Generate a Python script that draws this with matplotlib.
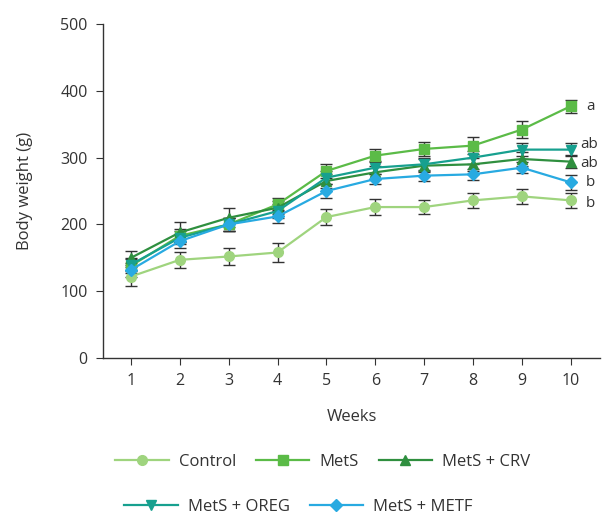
import matplotlib
matplotlib.use("Agg")
import matplotlib.pyplot as plt

plt.rcParams['font.family'] = ['Open Sans', 'DejaVu Sans']

# --- Data ---
weeks = [1, 2, 3, 4, 5, 6, 7, 8, 9, 10]
control = [122, 147, 152, 158, 211, 226, 226, 236, 242, 236]
mets = [138, 183, 200, 230, 280, 303, 313, 318, 342, 377]
crv = [150, 188, 210, 225, 265, 278, 288, 290, 298, 294]
oreg = [140, 180, 200, 220, 270, 285, 290, 300, 312, 312]
metf = [132, 175, 200, 212, 250, 268, 273, 275, 285, 263]

control_err = [14, 12, 12, 14, 12, 12, 11, 11, 11, 11]
mets_err = [10, 10, 10, 10, 10, 10, 10, 13, 13, 10]
crv_err = [10, 15, 14, 10, 10, 10, 10, 10, 10, 10]
oreg_err = [10, 10, 10, 10, 10, 10, 10, 10, 10, 10]
metf_err = [10, 10, 10, 10, 10, 8, 8, 8, 8, 11]

series = [
    ("Control", control, control_err, "#9fd47e", "o"),
    ("MetS", mets, mets_err, "#5bbb47", "s"),
    ("MetS + CRV", crv, crv_err, "#2f8f3f", "^"),
    ("MetS + OREG", oreg, oreg_err, "#17a08f", "v"),
    ("MetS + METF", metf, metf_err, "#28aae1", "D"),
]
# significance letters and their (x, y) offsets in points
letters = {"MetS": ("a", 11, 0), "MetS + OREG": ("ab", 7, 4),
           "MetS + CRV": ("ab", 7, -1), "MetS + METF": ("b", 11, 0),
           "Control": ("b", 11, -2)}

fig = plt.figure(figsize=(6.03, 5.17), dpi=100)
ax = fig.add_axes([0.171, 0.3075, 0.824, 0.646])

handles = []
for name, vals, err, col, mk in series:
    ax.errorbar(weeks, vals, yerr=err, fmt="none", ecolor="#333333",
                elinewidth=1, capsize=4, capthick=1, zorder=2)
for name, vals, err, col, mk in series:
    ms = 6 if mk == "D" else 7
    h, = ax.plot(weeks, vals, color=col, marker=mk, markersize=ms,
                 linewidth=1.6, label=name, zorder=3)
    handles.append(h)
    txt, dx, dy = letters[name]
    ax.annotate(txt, (weeks[-1], vals[-1]), xytext=(dx, dy),
                textcoords="offset points", va="center", ha="left",
                fontsize=11, color="#333333", annotation_clip=False)

ax.set_xlim(0.43, 10.6)
ax.set_ylim(0, 500)
ax.set_xticks(weeks)
ax.set_yticks([0, 100, 200, 300, 400, 500])
ax.spines['top'].set_visible(False)
ax.spines['right'].set_visible(False)
for s in ['left', 'bottom']:
    ax.spines[s].set_color("#333333")
    ax.spines[s].set_linewidth(1)
ax.tick_params(direction="out", length=5, color="#333333",
               labelsize=11.5, labelcolor="#333333", pad=6)
ax.set_xlabel("Weeks", fontsize=12, color="#333333", labelpad=14)
ax.set_ylabel("Body weight (g)", fontsize=12, color="#333333", labelpad=20)

leg_kw = dict(frameon=False, fontsize=12, handlelength=3.2,
              columnspacing=1.2, handletextpad=0.6, labelcolor="#333333")
fig.legend(handles[:3], [h.get_label() for h in handles[:3]], ncol=3,
           loc="center", bbox_to_anchor=(0.535, 0.106), **leg_kw)
fig.legend(handles[3:], [h.get_label() for h in handles[3:]], ncol=2,
           loc="center", bbox_to_anchor=(0.495, 0.02), **leg_kw)

fig.savefig("out.png", dpi=100)
